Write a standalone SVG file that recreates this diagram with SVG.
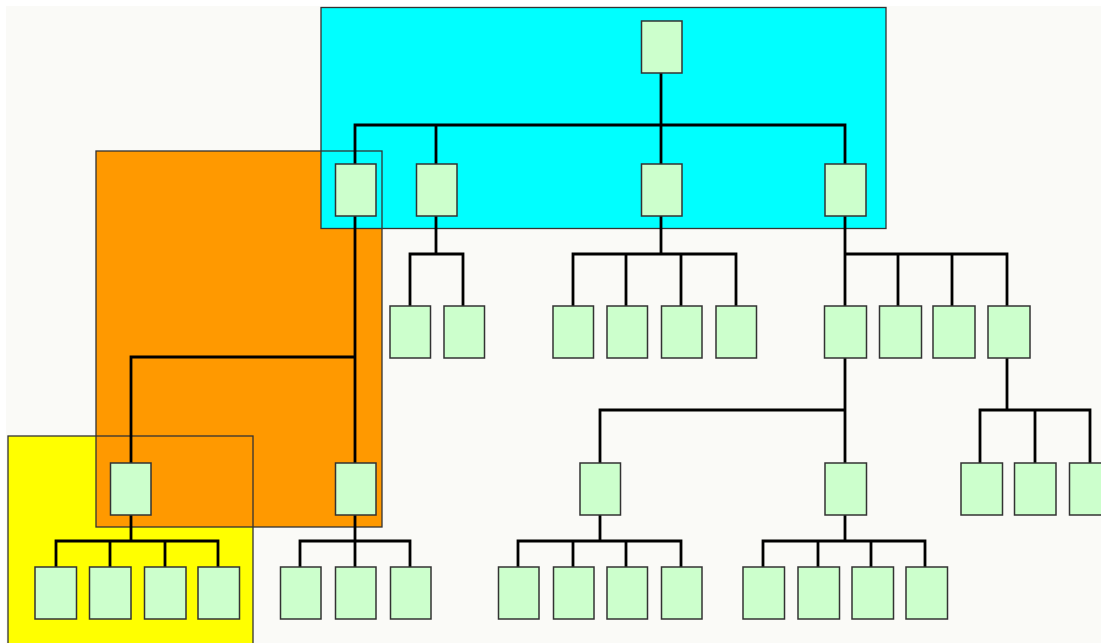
<svg xmlns="http://www.w3.org/2000/svg" width="1101" height="643" viewBox="0 0 1101 643">
<style>
.n{fill:#ccffcc;stroke:#333;stroke-width:1.5}
.c{fill:none;stroke:#000;stroke-width:2.8;stroke-linejoin:miter}
.ol{fill:none;stroke:#333;stroke-width:1.3}
</style>
<rect x="0" y="0" width="1101" height="643" fill="#ffffff"/>
<rect x="6" y="6" width="1095" height="637" fill="#fafaf7"/>
<g id="regions">
<rect x="8" y="436" width="245" height="212" fill="#ffff00"/>
<rect x="96" y="151" width="286" height="376" fill="#ff9900"/>
<rect x="321" y="7.5" width="565" height="221" fill="#00ffff"/>
<rect class="ol" x="8" y="436" width="245" height="212"/>
<rect class="ol" x="96" y="151" width="286" height="376"/>
<rect class="ol" x="321" y="7.5" width="565" height="221"/>
</g>
<g id="connectors" class="c">
<path d="M661 73V125M355 164V125H845V164M436 125V164M661 125V164"/>
<path d="M436 216V254M410 306V254H463V306"/>
<path d="M661 216V254M573 306V254H736V306M626 254V306M681 254V306"/>
<path d="M845 216V306M845 254H1007V306M898 254V306M952 254V306"/>
<path d="M355 216V463M355 357H131V463"/>
<path d="M131 515V541M56 567V541H218V567M110 541V567M165 541V567"/>
<path d="M355 515V567M300 567V541H410V567"/>
<path d="M845 358V463M845 410H600V463"/>
<path d="M600 515V541M518 567V541H681V567M573 541V567M626 541V567"/>
<path d="M845 515V541M763 567V541H925V567M818 541V567M871 541V567"/>
<path d="M1007 358V410M980 463V410H1090V463M1035 410V463"/>
</g>
<g id="n0"><rect class="n" x="641.5" y="21" width="40.5" height="52"/></g>
<g id="n1"><rect class="n" x="335.5" y="164" width="40.5" height="52"/></g>
<g id="n2"><rect class="n" x="416.5" y="164" width="40.5" height="52"/></g>
<g id="n3"><rect class="n" x="641.5" y="164" width="40.5" height="52"/></g>
<g id="n4"><rect class="n" x="825" y="164" width="41" height="52"/></g>
<g id="n5"><rect class="n" x="390" y="306" width="40.5" height="52"/></g>
<g id="n6"><rect class="n" x="444" y="306" width="40.5" height="52"/></g>
<g id="n7"><rect class="n" x="553" y="306" width="40.5" height="52"/></g>
<g id="n8"><rect class="n" x="607" y="306" width="40.5" height="52"/></g>
<g id="n9"><rect class="n" x="661.5" y="306" width="40.5" height="52"/></g>
<g id="n10"><rect class="n" x="716" y="306" width="40.5" height="52"/></g>
<g id="n11"><rect class="n" x="824.5" y="306" width="42" height="52"/></g>
<g id="n12"><rect class="n" x="879.5" y="306" width="42" height="52"/></g>
<g id="n13"><rect class="n" x="933" y="306" width="42" height="52"/></g>
<g id="n14"><rect class="n" x="988" y="306" width="42" height="52"/></g>
<g id="n15"><rect class="n" x="110.5" y="463" width="40.5" height="52"/></g>
<g id="n16"><rect class="n" x="335.5" y="463" width="40.5" height="52"/></g>
<g id="n17"><rect class="n" x="580" y="463" width="40.5" height="52"/></g>
<g id="n18"><rect class="n" x="825" y="463" width="41.5" height="52"/></g>
<g id="n19"><rect class="n" x="961" y="463" width="41.5" height="52"/></g>
<g id="n20"><rect class="n" x="1014.5" y="463" width="41.5" height="52"/></g>
<g id="n21"><rect class="n" x="1069.5" y="463" width="41.5" height="52"/></g>
<g id="n22"><rect class="n" x="35" y="567" width="41.5" height="52"/></g>
<g id="n23"><rect class="n" x="89.5" y="567" width="41.5" height="52"/></g>
<g id="n24"><rect class="n" x="144.5" y="567" width="41.5" height="52"/></g>
<g id="n25"><rect class="n" x="198" y="567" width="41.5" height="52"/></g>
<g id="n26"><rect class="n" x="280.5" y="567" width="40.5" height="52"/></g>
<g id="n27"><rect class="n" x="335.5" y="567" width="40.5" height="52"/></g>
<g id="n28"><rect class="n" x="390.5" y="567" width="40.5" height="52"/></g>
<g id="n29"><rect class="n" x="498.5" y="567" width="40.5" height="52"/></g>
<g id="n30"><rect class="n" x="553.5" y="567" width="40.5" height="52"/></g>
<g id="n31"><rect class="n" x="607" y="567" width="40.5" height="52"/></g>
<g id="n32"><rect class="n" x="661.5" y="567" width="40.5" height="52"/></g>
<g id="n33"><rect class="n" x="743" y="567" width="41.5" height="52"/></g>
<g id="n34"><rect class="n" x="798" y="567" width="41.5" height="52"/></g>
<g id="n35"><rect class="n" x="852" y="567" width="41.5" height="52"/></g>
<g id="n36"><rect class="n" x="906" y="567" width="41.5" height="52"/></g>
</svg>
